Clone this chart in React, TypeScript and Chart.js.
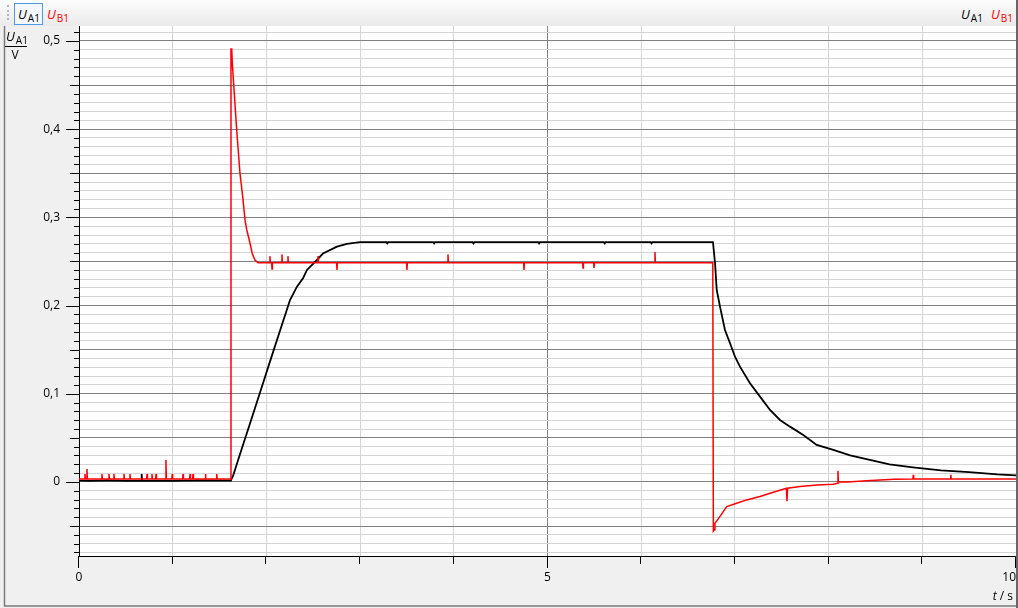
import React, { useEffect, useRef } from "react";
import { Chart, registerables } from "chart.js";

Chart.register(...registerables);

// ---- axes ----
const X_MIN = 0;
const X_MAX = 10;
const X_TICKS = [0, 1, 2, 3, 4, 5, 6, 7, 8, 9, 10];
const X_LABELED = [0, 5, 10];
const Y_MIN = -0.084;
const Y_MAX = 0.517;
const Y_TICKS_HUNDREDTHS = [
  -8, -7, -6, -5, -4, -3, -2, -1, 0, 1, 2, 3, 4, 5, 6, 7, 8, 9, 10, 11, 12, 13, 14, 15, 16, 17, 18, 19, 20,
  21, 22, 23, 24, 25, 26, 27, 28, 29, 30, 31, 32, 33, 34, 35, 36, 37, 38, 39, 40, 41, 42, 43, 44, 45, 46,
  47, 48, 49, 50, 51,
];

// ---- U_A1 (black), [t / s, U / V] ----
const uA1Baseline = [
  [0, 0.0015], [0.12, 0.0012], [0.3, 0.0018], [0.5, 0.0012], [0.665, 0.0015], [0.669, 0.009],
  [0.673, 0.0015], [1.0, 0.0012], [1.3, 0.0018], [1.62, 0.0015],
];
const uA1Rise = [
  [1.622, 0.002], [1.644, 0.0068], [1.718, 0.0313], [1.825, 0.0663], [1.932, 0.1014], [2.038, 0.1364],
  [2.145, 0.1714], [2.252, 0.2063], [2.326, 0.2214], [2.391, 0.231], [2.433, 0.2404], [2.54, 0.2517],
  [2.604, 0.259], [2.753, 0.2668], [2.86, 0.27], [2.999, 0.272],
];
const uA1Plateau = [
  [3.28, 0.272], [3.29, 0.2705], [3.3, 0.272], [3.78, 0.272], [3.79, 0.2705], [3.8, 0.272],
  [4.2, 0.272], [4.21, 0.2705], [4.22, 0.272], [4.9, 0.272], [4.91, 0.2705], [4.92, 0.272],
  [5.6, 0.272], [5.61, 0.2705], [5.62, 0.272], [6.1, 0.272], [6.11, 0.2705], [6.12, 0.272], [6.766, 0.272],
];
const uA1Decay = [
  [6.788, 0.248], [6.806, 0.2177], [6.841, 0.1988], [6.894, 0.1723], [6.948, 0.1573], [7.001, 0.142],
  [7.054, 0.1307], [7.161, 0.1119], [7.268, 0.0967], [7.375, 0.0816], [7.481, 0.0703], [7.588, 0.0627],
  [7.73, 0.0533], [7.873, 0.042], [8.05, 0.0363], [8.23, 0.03], [8.44, 0.025], [8.65, 0.02], [8.9, 0.0165],
  [9.2, 0.013], [9.5, 0.011], [9.8, 0.0085], [10, 0.0075],
];

// ---- U_B1 (red), [t / s, U / V] ----
const uB1Baseline = [
  [0, 0.0034], [0.06, 0.0034], [0.064, 0.009], [0.068, 0.0034], [0.081, 0.0034], [0.085, 0.0147],
  [0.089, 0.0034], [0.241, 0.0034], [0.245, 0.009], [0.249, 0.0034], [0.316, 0.0034], [0.32, 0.009],
  [0.324, 0.0034], [0.369, 0.0034], [0.373, 0.009], [0.377, 0.0034], [0.476, 0.0034], [0.48, 0.009],
  [0.484, 0.0034], [0.54, 0.0034], [0.544, 0.009], [0.548, 0.0034], [0.722, 0.0034], [0.726, 0.009],
  [0.73, 0.0034], [0.775, 0.0034], [0.779, 0.009], [0.783, 0.0034], [0.818, 0.0034], [0.822, 0.009],
  [0.826, 0.0034], [0.924, 0.0034], [0.928, 0.025], [0.932, 0.0034], [0.991, 0.0034], [0.995, 0.009],
  [0.999, 0.0034], [1.106, 0.0034], [1.11, 0.009], [1.114, 0.0034], [1.181, 0.0034], [1.185, 0.009],
  [1.189, 0.0034], [1.213, 0.0034], [1.217, 0.009], [1.221, 0.0034], [1.346, 0.0034], [1.35, 0.009],
  [1.354, 0.0034], [1.466, 0.0034], [1.47, 0.009], [1.474, 0.0034], [1.618, 0.0034],
];
const uB1Spike = [
  [1.622, 0.491], [1.63, 0.491], [1.636, 0.475], [1.683, 0.399], [1.718, 0.35], [1.747, 0.3235],
  [1.772, 0.297], [1.79, 0.286], [1.825, 0.2706], [1.849, 0.259], [1.878, 0.2517], [1.91, 0.2485],
];
const uB1Plateau = [
  [2.034, 0.2485], [2.038, 0.256], [2.042, 0.2485], [2.056, 0.2485], [2.06, 0.2415], [2.064, 0.2485],
  [2.162, 0.2485], [2.166, 0.258], [2.17, 0.2485], [2.226, 0.2485], [2.23, 0.256], [2.234, 0.2485],
  [2.547, 0.2485], [2.551, 0.256], [2.555, 0.2485], [2.749, 0.2485], [2.753, 0.2405], [2.757, 0.2485],
  [3.496, 0.2485], [3.5, 0.2405], [3.504, 0.2485], [3.934, 0.2485], [3.938, 0.258], [3.942, 0.2485],
  [4.745, 0.2485], [4.749, 0.2405], [4.753, 0.2485], [5.375, 0.2485], [5.379, 0.2425], [5.383, 0.2485],
  [5.492, 0.2485], [5.496, 0.2425], [5.5, 0.2485], [6.143, 0.2485], [6.147, 0.2607], [6.151, 0.2485],
  [6.764, 0.2485],
];
const uB1Recovery = [
  [6.77, -0.0556], [6.777, -0.0544], [6.787, -0.047], [6.841, -0.039], [6.913, -0.028], [7.019, -0.0242],
  [7.126, -0.0204], [7.268, -0.0166], [7.375, -0.0128], [7.55, -0.0072], [7.556, -0.022], [7.562, -0.0072],
  [7.695, -0.0053], [7.873, -0.0034], [8.05, -0.0026], [8.096, -0.0015], [8.1, 0.0125], [8.104, 0.0],
  [8.2, 0.0], [8.45, 0.0015], [8.7, 0.003], [8.9, 0.0034], [8.904, 0.008], [8.908, 0.0034],
  [9.3, 0.0034], [9.304, 0.008], [9.308, 0.0034], [10, 0.0034],
];

const toXY = (rows: number[][]) => rows.map(([x, y]) => ({ x, y }));

const GRID_DARK = "#808080";
const GRID_LIGHT = "#d4d4d4";
const TICK_FONT = { family: '"Open Sans", "Noto Sans", sans-serif', size: 12 };

const decorPlugin = {
  id: "decor",
  beforeDraw(chart: any) {
    const { ctx, width, height, chartArea: a } = chart;
    ctx.save();
    ctx.fillStyle = "#f0f0f0";
    ctx.fillRect(0, 0, width, height);
    ctx.fillStyle = "#ffffff";
    ctx.fillRect(a.left, a.top, a.right - a.left, a.bottom - a.top);
    ctx.restore();
  },
  afterDraw(chart: any) {
    const { ctx, chartArea: a, scales, width, height } = chart;
    const xs = scales.x;
    const ys = scales.y;
    ctx.save();
    ctx.strokeStyle = "#000";
    ctx.lineWidth = 1;
    ctx.beginPath();
    Y_TICKS_HUNDREDTHS.forEach((k) => {
      const py = Math.round(ys.getPixelForValue(k / 100)) + 0.5;
      const len = k % 10 === 0 ? 13 : k % 5 === 0 ? 9 : 5;
      ctx.moveTo(a.left - len, py);
      ctx.lineTo(a.left, py);
    });
    X_TICKS.forEach((v) => {
      const px = Math.round(xs.getPixelForValue(v)) - 0.5;
      const len = v % 5 === 0 ? 12 : 8;
      ctx.moveTo(px, a.bottom);
      ctx.lineTo(px, a.bottom + len);
    });
    ctx.stroke();
    // window frame
    ctx.strokeStyle = "#7a7a7a";
    ctx.lineWidth = 1.5;
    ctx.beginPath();
    ctx.moveTo(4.5, 26);
    ctx.lineTo(4.5, height - 2);
    ctx.lineTo(width - 1, height - 2);
    ctx.stroke();
    ctx.strokeStyle = "#666";
    ctx.lineWidth = 2;
    ctx.beginPath();
    ctx.moveTo(width - 1, 0);
    ctx.lineTo(width - 1, height);
    ctx.stroke();
    ctx.restore();
  },
};

function Sym({ sub, color, left, top }: { sub: string; color: string; left: number; top: number }) {
  return (
    <span style={{ position: "absolute", left, top, color, whiteSpace: "nowrap", lineHeight: 1 }}>
      <i style={{ fontSize: 13 }}>U</i>
      <span style={{ fontSize: 10, position: "relative", top: 3, marginLeft: 1 }}>{sub}</span>
    </span>
  );
}

export default function App() {
  const canvasRef = useRef<HTMLCanvasElement | null>(null);

  useEffect(() => {
    document.body.style.margin = "0";
    const canvas = canvasRef.current;
    if (!canvas) return;
    const chart = new Chart(canvas, {
      type: "line",
      data: {
        datasets: [
          {
            label: "U_B1",
            data: toXY([...uB1Baseline, ...uB1Spike, ...uB1Plateau, ...uB1Recovery]),
            borderColor: "#ff0000",
            borderWidth: 1.5,
            pointRadius: 0,
            tension: 0,
            order: 0,
          },
          {
            label: "U_A1",
            data: toXY([...uA1Baseline, ...uA1Rise, ...uA1Plateau, ...uA1Decay]),
            borderColor: "#000000",
            borderWidth: 1.8,
            pointRadius: 0,
            tension: 0,
            order: 1,
          },
        ],
      },
      options: {
        animation: false,
        responsive: false,
        events: [],
        layout: { autoPadding: false, padding: { top: 26, right: 2, left: 0, bottom: 0 } },
        plugins: { legend: { display: false }, tooltip: { enabled: false }, title: { display: false } },
        scales: {
          x: {
            type: "linear",
            min: X_MIN,
            max: X_MAX,
            afterBuildTicks: (axis: any) => {
              axis.ticks = [{ value: X_TICKS[0] }, ...X_TICKS.map((v) => ({ value: v }))];
            },
            afterFit: (axis: any) => {
              axis.height = 52;
              axis.paddingLeft = 0;
              axis.paddingRight = 0;
            },
            border: { display: true, color: "#000", width: 1 },
            grid: {
              drawTicks: false,
              color: (c: any) => {
                const v = c.tick ? c.tick.value : 0;
                if (c.index === 0 || v === 0) return "rgba(0,0,0,0)";
                return v === 5 ? GRID_DARK : GRID_LIGHT;
              },
            },
            ticks: {
              autoSkip: false,
              maxRotation: 0,
              align: "inner",
              padding: 14,
              color: "#000",
              font: TICK_FONT,
              callback: (value: any, index: number) =>
                index > 0 && X_LABELED.includes(Number(value)) ? String(value) : "",
            },
          },
          y: {
            type: "linear",
            min: Y_MIN,
            max: Y_MAX,
            afterBuildTicks: (axis: any) => {
              axis.ticks = Y_TICKS_HUNDREDTHS.map((k) => ({ value: k / 100 }));
            },
            afterFit: (axis: any) => {
              axis.width = 79;
              axis.paddingTop = 0;
              axis.paddingBottom = 0;
            },
            border: { display: true, color: "#000", width: 1 },
            grid: {
              drawTicks: false,
              color: (c: any) => {
                const k = Math.round((c.tick ? c.tick.value : 0) * 100);
                return k % 5 === 0 ? GRID_DARK : GRID_LIGHT;
              },
            },
            ticks: {
              autoSkip: false,
              padding: 19,
              color: "#000",
              font: TICK_FONT,
              callback: (value: any) => {
                const k = Math.round(Number(value) * 100);
                return k % 10 === 0 ? String(k / 100).replace(".", ",") : "";
              },
            },
          },
        },
      },
      plugins: [decorPlugin],
    });
    return () => chart.destroy();
  }, []);

  return (
    <div
      style={{
        position: "relative",
        width: 1018,
        height: 608,
        fontFamily: '"Open Sans", "Noto Sans", sans-serif',
        color: "#000",
      }}
    >
      <canvas ref={canvasRef} width={1018} height={608} style={{ display: "block" }} />
      <div
        style={{
          position: "absolute",
          left: 0,
          top: 0,
          width: 1016,
          height: 26,
          background: "linear-gradient(#fcfcfc, #eaeaea)",
        }}
      >
        <div
          style={{
            position: "absolute",
            left: 7,
            top: 5,
            height: 15,
            borderLeft: "2px dotted #b5b5b5",
          }}
        />
        <div
          style={{
            position: "absolute",
            left: 14,
            top: 3,
            width: 27,
            height: 20,
            border: "1px solid #4a9be8",
            background: "#f4f8fc",
          }}
        />
        <Sym sub="A1" color="#000" left={18} top={5} />
        <Sym sub="B1" color="#ff0000" left={47} top={5} />
        <Sym sub="A1" color="#000" left={961} top={5} />
        <Sym sub="B1" color="#ff0000" left={991} top={5} />
      </div>
      <div style={{ position: "absolute", left: 5, top: 27, width: 22, lineHeight: 1 }}>
        <div style={{ borderBottom: "1px solid #000", paddingLeft: 1, paddingBottom: 3, whiteSpace: "nowrap" }}>
          <i style={{ fontSize: 13 }}>U</i>
          <span style={{ fontSize: 10, position: "relative", top: 3, marginLeft: 1 }}>A1</span>
        </div>
        <div style={{ fontSize: 12, textAlign: "center", marginTop: 2, width: 20 }}>V</div>
      </div>
      <div style={{ position: "absolute", right: 5, top: 590, fontSize: 12, lineHeight: 1, whiteSpace: "nowrap" }}>
        <i>t</i> / s
      </div>
    </div>
  );
}
